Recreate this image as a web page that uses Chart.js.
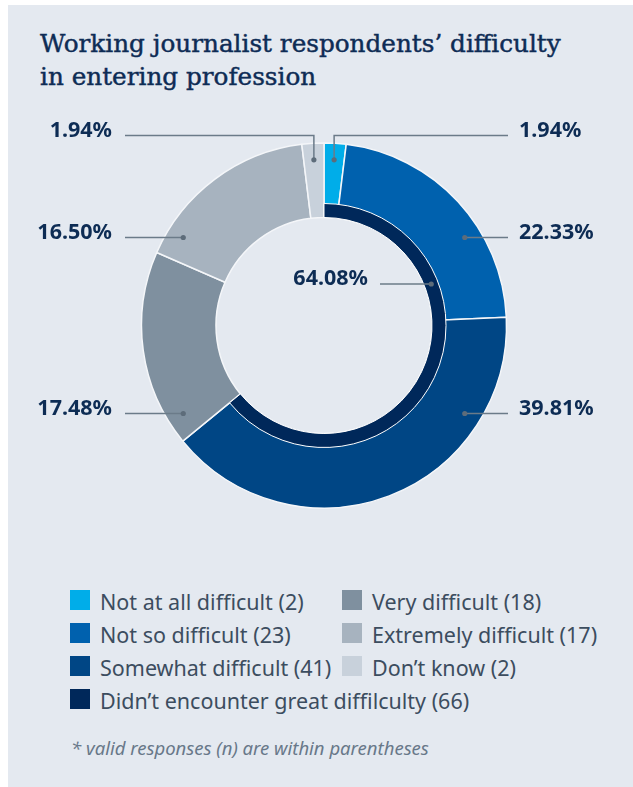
<!DOCTYPE html>
<html>
<head>
<meta charset="utf-8">
<script src="https://cdn.jsdelivr.net/npm/chart.js@4.4.1/dist/chart.umd.min.js"></script>
<style>
  html, body { margin: 0; padding: 0; background: #ffffff; }
  body { width: 633px; height: 787px; position: relative; overflow: hidden; }
  .panel { position: absolute; left: 8px; top: 5px; right: 0; bottom: 0; background: #e4e9f0; }
  .title {
    position: absolute; left: 40px; top: 28px; margin: 0;
    font-family: "DejaVu Serif", serif; font-weight: normal;
    font-size: 24.7px; line-height: 32.5px; color: #0e2c55;
    -webkit-text-stroke: 0.45px #0e2c55;
  }
  #donut { position: absolute; left: 24px; top: 95px; }
  .legend { position: absolute; left: 0; top: 585px; width: 633px;
    font-family: "Noto Sans", sans-serif; font-size: 21.5px; color: #3c4d5f; }
  .legend .item { position: absolute; line-height: 33px; white-space: nowrap; }
  .legend .box { position: absolute; left: 0; top: 5px; width: 20px; height: 20px; }
  .legend .label { padding-left: 30px; }
  .note { position: absolute; left: 71px; top: 736px; margin: 0;
    font-family: "Noto Sans", sans-serif; font-style: italic; font-size: 18.5px;
    line-height: 24px; color: #687889; }
</style>
</head>
<body>
<div class="panel"></div>
<h1 class="title">Working journalist respondents’ difficulty<br>in entering profession</h1>
<canvas id="donut" width="600" height="461"></canvas>
<div class="legend" id="legend"></div>
<p class="note">* valid responses (n) are within parentheses</p>

<script>
// answers, outer ring
const categories = ['Not at all difficult', 'Not so difficult', 'Somewhat difficult',
  'Very difficult', 'Extremely difficult', 'Don’t know'];
const responses = [2, 23, 41, 18, 17, 2];
const ringColors = ['#00ade9', '#0061ae', '#004685', '#7f909f', '#a7b3bf', '#c8d1db'];

// inner thin arc
const innerCategory = 'Didn’t encounter great diffilculty';
const innerResponses = 66;
const innerColor = '#00285a';

const total = responses.reduce((a, b) => a + b, 0);

// where each percentage label sits (dy = label line offset from the centre)
const callouts = [
  { ds: 0, i: 0, side: 'right', dy: -190, elbow: true },
  { ds: 0, i: 1, side: 'right', dy: -88 },
  { ds: 0, i: 2, side: 'right', dy: 88 },
  { ds: 0, i: 3, side: 'left', dy: 88 },
  { ds: 0, i: 4, side: 'left', dy: -88 },
  { ds: 0, i: 5, side: 'left', dy: -190, elbow: true },
  { ds: 1, i: 0, side: 'center', dy: -41.5 }
];

// outer ring goes all the way down to the cutout, the dark arc lies on top of it
const fullRing = {
  id: 'fullRing',
  afterDatasetsUpdate(chart) {
    const inner = chart.getDatasetMeta(1).data[0];
    chart.getDatasetMeta(0).data.forEach(a => { a.innerRadius = inner.innerRadius; });
  }
};

const calloutLabels = {
  id: 'calloutLabels',
  afterDatasetsDraw(chart) {
    const ctx = chart.ctx;
    ctx.save();
    callouts.forEach(c => {
      const arc = chart.getDatasetMeta(c.ds).data[c.i];
      const p = arc.getProps(['x', 'y', 'startAngle', 'endAngle', 'innerRadius', 'outerRadius'], true);
      const value = chart.data.datasets[c.ds].data[c.i];
      const text = (value / total * 100).toFixed(2) + '%';
      const r = c.ds === 0 ? p.outerRadius - 16.5 : (p.innerRadius + p.outerRadius) / 2;
      const ly = p.y + c.dy;
      let dx, dyDot;
      if (c.elbow) {
        const mid = (p.startAngle + p.endAngle) / 2;
        dx = p.x + Math.cos(mid) * r;
        dyDot = p.y + Math.sin(mid) * r;
      } else {
        dyDot = ly;
        dx = p.x + (c.side === 'left' ? -1 : 1) * Math.sqrt(r * r - c.dy * c.dy);
      }
      let lineEnd, textX, align;
      if (c.side === 'left') { lineEnd = p.x - 199; textX = p.x - 212; align = 'right'; }
      else if (c.side === 'right') { lineEnd = p.x + 184; textX = p.x + 195; align = 'left'; }
      else { lineEnd = p.x + 56; textX = p.x + 44; align = 'right'; }

      ctx.strokeStyle = '#6b7b89';
      ctx.lineWidth = 1.5;
      ctx.beginPath();
      ctx.moveTo(dx, dyDot);
      if (c.elbow) ctx.lineTo(dx, ly);
      ctx.lineTo(lineEnd, ly);
      ctx.stroke();

      ctx.fillStyle = '#5d6c7a';
      ctx.beginPath();
      ctx.arc(dx, dyDot, 2.6, 0, Math.PI * 2);
      ctx.fill();

      ctx.fillStyle = '#0d2c54';
      ctx.font = 'bold 21.5px "Noto Sans", sans-serif';
      ctx.textAlign = align;
      ctx.textBaseline = 'alphabetic';
      ctx.fillText(text, textX, ly + 1);
    });
    ctx.restore();
  }
};

new Chart(document.getElementById('donut'), {
  type: 'doughnut',
  data: {
    labels: categories,
    datasets: [{
      data: responses,
      backgroundColor: ringColors,
      borderColor: '#f4f6f9',
      borderWidth: 1.5,
      weight: 60.5,
      order: 1
    }, {
      data: [innerResponses, total - innerResponses],
      backgroundColor: [innerColor, 'rgba(0,0,0,0)'],
      borderColor: ['#ffffff', 'rgba(0,0,0,0)'],
      borderWidth: [1, 0],
      weight: 14,
      order: 0
    }]
  },
  options: {
    responsive: false,
    animation: false,
    events: [],
    radius: 182.5,
    cutout: (108 / 182.5 * 100) + '%',
    plugins: { legend: { display: false }, tooltip: { enabled: false } }
  },
  plugins: [fullRing, calloutLabels]
});

// legend in two columns
const legendItems = [
  { text: categories[0] + ' (' + responses[0] + ')', color: ringColors[0], col: 0, row: 0 },
  { text: categories[1] + ' (' + responses[1] + ')', color: ringColors[1], col: 0, row: 1 },
  { text: categories[2] + ' (' + responses[2] + ')', color: ringColors[2], col: 0, row: 2 },
  { text: innerCategory + ' (' + innerResponses + ')', color: innerColor, col: 0, row: 3 },
  { text: categories[3] + ' (' + responses[3] + ')', color: ringColors[3], col: 1, row: 0 },
  { text: categories[4] + ' (' + responses[4] + ')', color: ringColors[4], col: 1, row: 1 },
  { text: categories[5] + ' (' + responses[5] + ')', color: ringColors[5], col: 1, row: 2 }
];
const colX = [70, 342];
const legend = document.getElementById('legend');
legendItems.forEach(it => {
  const el = document.createElement('div');
  el.className = 'item';
  el.style.left = colX[it.col] + 'px';
  el.style.top = (it.row * 33) + 'px';
  el.innerHTML = '<span class="box" style="background:' + it.color + '"></span><span class="label"></span>';
  el.querySelector('.label').textContent = it.text;
  legend.appendChild(el);
});
</script>
</body>
</html>
